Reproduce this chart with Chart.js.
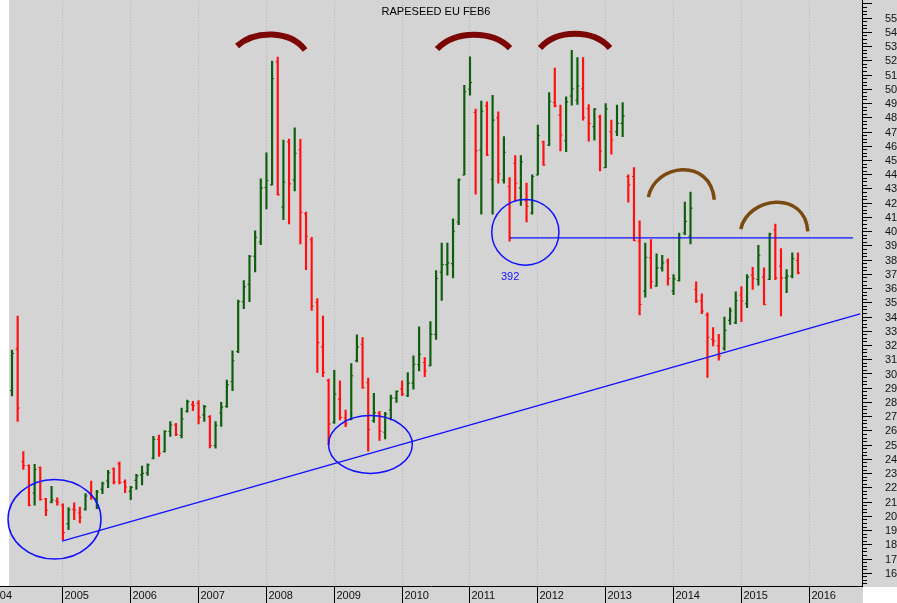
<!DOCTYPE html>
<html>
<head>
<meta charset="utf-8">
<script src="https://cdn.jsdelivr.net/npm/chart.js@4.4.1/dist/chart.umd.min.js"></script>
<style>
  html, body { margin: 0; padding: 0; background: #fff; }
  #wrap { width: 897px; height: 603px; }
</style>
</head>
<body>
<div id="wrap"><canvas id="chart" width="897" height="603"></canvas></div>
<script>
// monthly bars, x = months since Jan 2004
const months = [
  3, 4, 5, 6, 7, 8, 9, 10, 11,
  12, 13, 14, 15, 16, 17, 18, 19, 20, 21, 22, 23,
  24, 25, 26, 27, 28, 29, 30, 31, 32, 33, 34, 35,
  36, 37, 38, 39, 40, 41, 42, 43, 44, 45, 46, 47,
  48, 49, 50, 51, 52, 53, 54, 55, 56, 57, 58, 59,
  60, 61, 62, 63, 64, 65, 66, 67, 68, 69, 70, 71,
  72, 73, 74, 75, 76, 77, 78, 79, 80, 81, 82, 83,
  84, 85, 86, 87, 88, 89, 90, 91, 92, 93, 94, 95,
  96, 97, 98, 99, 100, 101, 102, 103, 104, 105, 106, 107,
  108, 109, 110, 111, 112, 113, 114, 115, 116, 117, 118, 119,
  120, 121, 122, 123, 124, 125, 126, 127, 128, 129, 130, 131,
  132, 133, 134, 135, 136, 137, 138, 139, 140, 141, 142
];
const opens = [
  288, 317.3, 238.2, 235.4, 216, 234, 212, 209.5, 210.4,
  207.4, 194.5, 204.6, 202, 204.6, 215.6, 212, 218.6, 224.4, 233.1, 236.5, 223.7,
  217.2, 224.9, 228.8, 230, 240.5, 253.6, 245.2, 259.4, 263.8, 256.4, 273.4, 278.1,
  279, 270.9, 269.7, 249.4, 272.2, 276.9, 294.4, 315.4, 350.4, 362.5, 382.4, 392.4,
  430.7, 432.5, 518.9, 416.9, 462.9, 436, 457, 412.2, 394, 350, 318.7, 295,
  265.7, 282, 268.7, 268, 308.9, 320.5, 293.7, 266.9, 272, 258.7, 274.3, 282.7,
  289, 284.4, 293.2, 306.1, 307.7, 305.4, 327.5, 371.2, 376.5, 377.2, 406.4, 439.5,
  499.7, 483.4, 457, 488.1, 436.5, 479.6, 436, 431.4, 447.7, 430.2, 421.3, 412.7,
  439.5, 462.8, 460.5, 490.4, 481.5, 463.5, 495, 492, 500, 486.2, 473.4, 480.3,
  444.6, 469.8, 469.8, 475.7, 438.4, 438.4, 392.9, 357.9, 381.2, 361.4, 374.2, 378.9,
  358, 365.3, 398.7, 396.4, 359, 350.9, 341, 324, 319.4, 317.7, 337.3, 335.7,
  355.1, 349, 369.1, 366, 367.7, 366, 401, 375.4, 367.2, 368.4, 379.3
];
const highs = [
  316.4, 340.4, 245.2, 235.8, 236.1, 234.5, 212.3, 220.7, 212.7,
  208.5, 205.8, 209.2, 206.2, 215.6, 224.4, 217.9, 223.7, 231.9, 233.7, 237.7, 225.3,
  220.7, 229.1, 234.9, 236.5, 255.9, 256.8, 259.9, 266.2, 265.0, 275.7, 281.3, 280.4,
  280.9, 277.6, 270.4, 266.2, 279.7, 295.3, 315.9, 351.6, 365.3, 383.1, 400.3, 436.7,
  455.1, 519.5, 522.3, 464.0, 464.7, 472.6, 464.5, 413.4, 395.7, 352.7, 340.4, 296.0,
  302.3, 294.9, 274.3, 307.0, 327.1, 325.2, 296.7, 286.0, 273.4, 272.7, 284.8, 287.9,
  294.9, 300.7, 312.4, 332.7, 311.2, 336.4, 372.3, 391.7, 391.7, 408.7, 436.7, 502.5,
  522.4, 485.7, 491.3, 490.9, 495.5, 483.9, 466.4, 437.6, 453.1, 453.1, 433.7, 439.5,
  474.5, 463.3, 497.4, 514.6, 488.5, 494.3, 527.0, 522.0, 522.0, 489.0, 486.2, 481.5,
  489.7, 478.0, 488.5, 490.4, 439.5, 444.7, 407.3, 391.7, 394.0, 384.0, 383.1, 380.5,
  369.5, 398.7, 420.4, 427.4, 364.4, 356.0, 342.7, 332.2, 327.5, 339.7, 346.2, 357.4,
  361.0, 369.5, 374.5, 390.1, 374.2, 398.7, 405.0, 387.7, 373.0, 384.7, 384.7
];
const lows = [
  284.2, 266.4, 232.6, 206.9, 207.4, 211.0, 200.1, 209.0, 207.4,
  183.3, 190.3, 197.3, 195.0, 203.9, 211.6, 205.0, 215.6, 219.8, 222.5, 222.5, 216.3,
  211.3, 218.6, 221.8, 228.4, 240.0, 241.7, 244.7, 255.7, 256.4, 254.7, 272.9, 273.9,
  264.5, 266.4, 247.7, 247.5, 262.9, 276.2, 287.9, 314.7, 345.5, 350.4, 371.4, 390.5,
  415.7, 432.5, 425.5, 408.0, 405.0, 428.3, 391.0, 373.0, 344.3, 300.7, 297.7, 250.0,
  265.0, 267.3, 262.7, 267.3, 308.2, 289.5, 245.4, 265.7, 252.9, 254.0, 267.3, 279.7,
  284.4, 283.7, 289.0, 301.8, 297.7, 305.4, 324.0, 351.3, 369.1, 367.2, 404.5, 439.5,
  495.5, 426.0, 412.0, 453.1, 412.0, 433.7, 433.7, 392.9, 421.3, 418.1, 406.4, 412.0,
  439.5, 446.1, 460.0, 487.3, 456.3, 455.8, 488.5, 489.0, 478.0, 463.3, 464.0, 442.3,
  444.6, 454.0, 467.0, 466.4, 420.4, 393.3, 341.1, 353.7, 359.7, 361.4, 371.9, 362.1,
  355.3, 364.9, 397.5, 391.0, 349.7, 342.0, 297.2, 319.4, 309.3, 316.3, 334.5, 335.0,
  336.4, 346.2, 359.0, 362.1, 348.1, 366.0, 366.0, 340.4, 356.7, 367.2, 370.0
];
const closes = [
  314, 275.7, 235.4, 207.4, 232.6, 211.5, 203.9, 211.0, 209.5,
  188.2, 204.3, 203.9, 199.0, 213.9, 212.7, 216.7, 222.5, 230.3, 223.7, 223.2, 220.2,
  220.0, 228.1, 229.8, 235.8, 253.8, 244.0, 259.2, 263.8, 257.1, 268.0, 280.2, 277.4,
  269.2, 276.7, 249.4, 263.6, 276.4, 292.1, 308.9, 350.4, 360.9, 382.4, 395.7, 430.2,
  435.6, 507.2, 425.5, 434.4, 433.2, 454.7, 413.2, 396.4, 347.4, 321.7, 300.7, 264.5,
  285.5, 269.2, 264.5, 298.4, 318.7, 290.2, 260.6, 272.5, 259.4, 271.5, 282.7, 287.4,
  285.5, 293.2, 306.5, 313.5, 301.8, 327.5, 366.7, 376.5, 377.7, 399.9, 436.0, 497.9,
  504.4, 456.6, 484.3, 453.5, 478.0, 440.2, 455.4, 395.2, 433.7, 448.8, 417.3, 438.4,
  467.0, 446.5, 491.3, 488.0, 467.5, 490.8, 500.0, 502.0, 480.0, 475.7, 485.7, 456.3,
  485.7, 464.0, 475.7, 481.0, 432.5, 393.3, 348.5, 381.7, 364.4, 374.2, 377.7, 366.7,
  366.5, 395.2, 406.9, 416.2, 350.9, 343.9, 325.5, 322.9, 312.4, 330.3, 343.9, 351.3,
  350.9, 367.7, 366.7, 383.1, 348.5, 398.0, 367.0, 367.2, 368.4, 380.7, 370.7
];

const yearLabels = ['2004', '2005', '2006', '2007', '2008', '2009', '2010', '2011', '2012', '2013', '2014', '2015', '2016'];
const yearStarts = [0, 12, 24, 36, 48, 60, 72, 84, 96, 108, 120, 132, 144];
const priceTicks = [160, 170, 180, 190, 200, 210, 220, 230, 240, 250, 260, 270, 280, 290, 300, 310, 320, 330, 340, 350,
  360, 370, 380, 390, 400, 410, 420, 430, 440, 450, 460, 470, 480, 490, 500, 510, 520, 530, 540, 550];

// drawn annotations, in (month, price) units
const trendLine = [[11.95, 182.2], [153.1, 341.8]];
const supportLine = [[91.2, 395.3], [151.85, 395.3]];
const supportLabel = { text: '392', month: 91.2, price: 367.7 };
const circles = [ // centre month, centre price, radius in months, radius in price
  [10.62, 197.6, 8.22, 28.0],
  [66.49, 250.1, 7.41, 20.3],
  [93.89, 399.2, 5.94, 23.1]
];
const topArcs = [
  [[42.9, 530.05], [46.08, 541.25], [52.27, 541.25], [54.93, 527.25]],
  [[78.27, 527.95], [81.45, 541.25], [88.0, 541.25], [91.18, 528.65]],
  [[96.49, 528.65], [99.5, 541.95], [105.86, 541.95], [108.87, 528.65]]
];
const roundArcs = [
  [[115.64, 423.87], [116.83, 447.46], [126.56, 452.36], [127.32, 422.05]],
  [[131.99, 401.47], [133.27, 424.36], [143.36, 429.26], [143.84, 399.86]]
];

const UP = '#0c5e0c';
const DOWN = '#ff1010';
const BLUE = '#1010ff';
const FONT = '11px "Liberation Sans", Arial, sans-serif';
const barShift = 0.1;
const tickShift = 0.16;
const isUp = i => closes[i] >= opens[i];
const barColor = c => isUp(c.dataIndex) ? UP : DOWN;

const frame = {
  id: 'frame',
  beforeDraw(chart) {
    const { ctx, chartArea: a, width, height } = chart;
    ctx.save();
    ctx.fillStyle = '#d4d4d4';
    ctx.fillRect(0, 0, width, height);
    ctx.fillStyle = '#ffffff';
    ctx.fillRect(0, 0, a.left, a.bottom);
    ctx.fillRect(a.right + 1, a.bottom + 1, width - a.right, height - a.bottom);
    ctx.restore();
  },
  beforeDatasetsDraw(chart) {
    const { ctx, chartArea: a, scales: { x } } = chart;
    ctx.save();
    ctx.strokeStyle = '#b4b4b4';
    ctx.lineWidth = 1;
    ctx.setLineDash([1, 2]);
    yearStarts.forEach(m => {
      const px = Math.round(x.getPixelForValue(m)) + 0.5;
      if (px < a.left || px > a.right) return;
      ctx.beginPath();
      ctx.moveTo(px, a.top);
      ctx.lineTo(px, a.bottom);
      ctx.stroke();
    });
    ctx.restore();
  },
  afterDatasetsDraw(chart) {
    const { ctx, scales: { x, y } } = chart;
    const P = ([m, v]) => [x.getPixelForValue(m), y.getPixelForValue(v)];
    ctx.save();
    ctx.strokeStyle = BLUE;
    ctx.lineWidth = 1.3;
    [trendLine, supportLine].forEach(l => {
      const a = P(l[0]), b = P(l[1]);
      ctx.beginPath();
      ctx.moveTo(a[0], a[1]);
      ctx.lineTo(b[0], b[1]);
      ctx.stroke();
    });
    ctx.lineWidth = 1.5;
    circles.forEach(([m, v, rm, rv]) => {
      const cx = x.getPixelForValue(m), cy = y.getPixelForValue(v);
      const rx = Math.abs(x.getPixelForValue(m + rm) - cx);
      const ry = Math.abs(y.getPixelForValue(v + rv) - cy);
      ctx.beginPath();
      ctx.ellipse(cx, cy, rx, ry, 0, 0, Math.PI * 2);
      ctx.stroke();
    });
    ctx.fillStyle = BLUE;
    ctx.font = FONT;
    ctx.textAlign = 'center';
    ctx.textBaseline = 'middle';
    ctx.fillText(supportLabel.text, x.getPixelForValue(supportLabel.month), y.getPixelForValue(supportLabel.price));

    const drawArc = (pts) => {
      const p = pts.map(P);
      ctx.beginPath();
      ctx.moveTo(p[0][0], p[0][1]);
      ctx.bezierCurveTo(p[1][0], p[1][1], p[2][0], p[2][1], p[3][0], p[3][1]);
      ctx.stroke();
    };
    ctx.strokeStyle = '#7c0505';
    ctx.lineWidth = 6;
    topArcs.forEach(drawArc);
    ctx.strokeStyle = '#7a4a10';
    ctx.lineWidth = 3.5;
    roundArcs.forEach(drawArc);
    ctx.restore();
  },
  afterDraw(chart) {
    const { ctx, chartArea: a, scales: { x, y }, height } = chart;
    ctx.save();
    ctx.strokeStyle = '#000';
    ctx.lineWidth = 1;
    // axis lines
    ctx.beginPath();
    ctx.moveTo(0, a.bottom + 0.5);
    ctx.lineTo(a.right + 1, a.bottom + 0.5);
    ctx.moveTo(a.right + 0.5, 0);
    ctx.lineTo(a.right + 0.5, a.bottom + 1);
    ctx.stroke();

    // year ticks and labels
    ctx.font = FONT;
    ctx.fillStyle = '#111';
    ctx.textBaseline = 'middle';
    yearStarts.forEach((m, i) => {
      const px = Math.round(x.getPixelForValue(m)) + 0.5;
      if (px >= 0) {
        ctx.beginPath();
        ctx.moveTo(px, a.bottom);
        ctx.lineTo(px, height);
        ctx.stroke();
        ctx.textAlign = 'left';
        ctx.fillText(yearLabels[i], px + 2, a.bottom + 10);
      } else {
        ctx.textAlign = 'right';
        ctx.fillText(yearLabels[i], 12, a.bottom + 10);
      }
    });

    // price axis: minor ticks each 2.5, major each 10
    for (let v = Math.ceil(y.min / 2.5) * 2.5; v <= y.max; v += 2.5) {
      const py = Math.round(y.getPixelForValue(v)) + 0.5;
      const major = Math.abs(v % 10) < 1e-6;
      ctx.beginPath();
      ctx.moveTo(a.right + 1, py);
      ctx.lineTo(a.right + (major ? 10 : 5), py);
      ctx.stroke();
    }
    ctx.textAlign = 'left';
    priceTicks.forEach(v => {
      ctx.fillText(String(v), a.right + 23, y.getPixelForValue(v) + 1);
    });

    // title
    ctx.textAlign = 'center';
    ctx.fillStyle = '#000';
    ctx.fillText('RAPESEED EU FEB6', 436, 12);
    ctx.restore();
  }
};

const tickData = (shift, vals) => months.map((m, i) => ({ x: m + barShift + shift, y: vals[i] }));
const tickSet = (shift, vals) => ({
  type: 'line',
  data: tickData(shift, vals),
  showLine: false,
  pointStyle: 'line',
  pointRadius: 1.1,
  pointBorderWidth: 1.1,
  pointBorderColor: barColor,
  pointBackgroundColor: barColor,
  pointHoverRadius: 0,
  order: 1
});

new Chart(document.getElementById('chart'), {
  type: 'bar',
  data: {
    datasets: [
      {
        type: 'bar',
        data: months.map((m, i) => ({ x: m + barShift, y: [lows[i], highs[i]] })),
        backgroundColor: barColor,
        borderWidth: 0,
        borderSkipped: false,
        barThickness: 1.5,
        grouped: false,
        order: 2
      },
      tickSet(-tickShift, opens),
      tickSet(tickShift, closes)
    ]
  },
  options: {
    responsive: false,
    animation: false,
    devicePixelRatio: 1,
    events: [],
    layout: { padding: { left: 9, right: 35, top: 0, bottom: 17 } },
    plugins: { legend: { display: false }, tooltip: { enabled: false } },
    scales: {
      x: { type: 'linear', display: false, min: 2.57, max: 153.43, offset: false },
      y: { type: 'linear', display: false, min: 150.7, max: 560.85 }
    }
  },
  plugins: [frame]
});
</script>
</body>
</html>
